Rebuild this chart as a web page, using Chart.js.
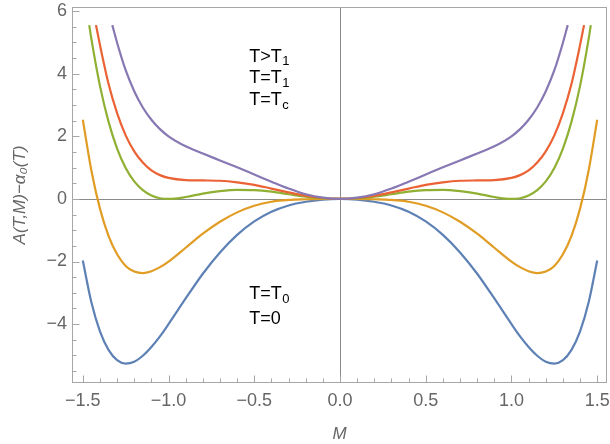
<!DOCTYPE html>
<html>
<head>
<meta charset="utf-8">
<script src="https://cdn.jsdelivr.net/npm/chart.js@4.4.1/dist/chart.umd.min.js"></script>
<style>
  html, body { margin: 0; padding: 0; background: #fff; }
  #wrap { width: 610px; height: 444px; }
</style>
</head>
<body>
<div id="wrap"><canvas id="chart"></canvas></div>
<script>
// M values on a shared grid (finer near the walls)
const mFull = [-1.5, -1.45, -1.4, -1.35, -1.3, -1.25, -1.2, -1.15, -1.1, -1.05, -1.0,
  -0.9, -0.8, -0.7, -0.6, -0.5, -0.4, -0.3, -0.2, -0.1, 0, 0.1, 0.2, 0.3, 0.4, 0.5, 0.6, 0.7, 0.8, 0.9,
  1.0, 1.05, 1.1, 1.15, 1.2, 1.25, 1.3, 1.35, 1.4, 1.45, 1.5];
const mGreen = [-1.4625, -1.45, -1.4, -1.35, -1.3, -1.25, -1.2, -1.15, -1.1, -1.05, -1.0,
  -0.9, -0.8, -0.7, -0.6, -0.5, -0.4, -0.3, -0.2, -0.1, 0, 0.1, 0.2, 0.3, 0.4, 0.5, 0.6, 0.7, 0.8, 0.9,
  1.0, 1.05, 1.1, 1.15, 1.2, 1.25, 1.3, 1.35, 1.4, 1.45, 1.4625];
const mRed = [-1.423, -1.4, -1.35, -1.3, -1.25, -1.2, -1.15, -1.1, -1.05, -1.0,
  -0.9, -0.8, -0.7, -0.6, -0.5, -0.4, -0.3, -0.2, -0.1, 0, 0.1, 0.2, 0.3, 0.4, 0.5, 0.6, 0.7, 0.8, 0.9,
  1.0, 1.05, 1.1, 1.15, 1.2, 1.25, 1.3, 1.35, 1.4, 1.423];
const mPurple = [-1.328, -1.3, -1.25, -1.2, -1.15, -1.1, -1.05, -1.0,
  -0.9, -0.8, -0.7, -0.6, -0.5, -0.4, -0.3, -0.2, -0.1, 0, 0.1, 0.2, 0.3, 0.4, 0.5, 0.6, 0.7, 0.8, 0.9,
  1.0, 1.05, 1.1, 1.15, 1.2, 1.25, 1.3, 1.328];

// A(T,M) - a0(T)
const aZero = [-1.97, -3.30, -4.23, -4.82, -5.15, -5.26, -5.20, -5.01, -4.73, -4.39, -4.00,
  -3.18, -2.39, -1.71, -1.15, -0.72, -0.41, -0.21, -0.09, -0.02, 0, -0.02, -0.09, -0.21, -0.41, -0.72, -1.15, -1.71, -2.39, -3.18,
  -4.00, -4.39, -4.73, -5.01, -5.20, -5.26, -5.15, -4.82, -4.23, -3.30, -1.97];
const aT0 = [2.53, 0.91, -0.31, -1.18, -1.77, -2.14, -2.32, -2.37, -2.31, -2.18, -2.00,
  -1.56, -1.11, -0.73, -0.43, -0.22, -0.09, -0.03, -0.01, 0.00, 0, 0.00, -0.01, -0.03, -0.09, -0.22, -0.43, -0.73, -1.11, -1.56,
  -2.00, -2.18, -2.31, -2.37, -2.32, -2.14, -1.77, -1.18, -0.31, 0.91, 2.53];
const aTc = [5.55, 5.11, 3.61, 2.47, 1.61, 0.99, 0.56, 0.28, 0.11, 0.02, 0.00,
  0.06, 0.17, 0.25, 0.29, 0.28, 0.23, 0.15, 0.07, 0.02, 0, 0.02, 0.07, 0.15, 0.23, 0.28, 0.29, 0.25, 0.17, 0.06,
  0.00, 0.02, 0.11, 0.28, 0.56, 0.99, 1.61, 2.47, 3.61, 5.11, 5.55];
const aT1 = [5.55, 4.92, 3.68, 2.74, 2.03, 1.52, 1.16, 0.91, 0.76, 0.67,
  0.60, 0.59, 0.58, 0.53, 0.45, 0.33, 0.21, 0.10, 0.03, 0, 0.03, 0.10, 0.21, 0.33, 0.45, 0.53, 0.58, 0.59, 0.60,
  0.67, 0.76, 0.91, 1.16, 1.52, 2.03, 2.74, 3.68, 4.92, 5.55];
const aAbove = [5.55, 4.99, 4.11, 3.44, 2.92, 2.53, 2.23, 2.00,
  1.68, 1.45, 1.23, 1.01, 0.78, 0.55, 0.33, 0.15, 0.04, 0, 0.04, 0.15, 0.33, 0.55, 0.78, 1.01, 1.23, 1.45, 1.68,
  2.00, 2.23, 2.53, 2.92, 3.44, 4.11, 4.99, 5.55];

const xTicks = [-1.5, -1.0, -0.5, 0.0, 0.5, 1.0, 1.5];
const yTicks = [-4, -2, 0, 2, 4, 6];

// curve labels: [text, subscript, M, A]
const curveLabels = [
  ['T>T', '1', -0.53, 4.54],
  ['T=T', '1', -0.53, 3.85],
  ['T=T', 'c', -0.53, 3.15],
  ['T=T', '0', -0.53, -3.04],
  ['T=0', '', -0.53, -3.84]
];

const pts = (ms, as) => ms.map((m, i) => ({ x: m, y: as[i] }));
const line = (label, data, color) => ({
  label: label, data: data, borderColor: color, backgroundColor: color,
  borderWidth: 2.2, pointRadius: 0, fill: false, cubicInterpolationMode: 'monotone'
});

const frameColor = '#a6a6a6';
const axisColor = '#8a8a8a';
const labelFont = '"Liberation Sans", Arial, sans-serif';

const framePlugin = {
  id: 'frame',
  beforeDatasetsDraw(chart) {
    const { ctx, chartArea: a, scales: { x, y } } = chart;
    ctx.save();
    ctx.strokeStyle = axisColor;
    ctx.lineWidth = 1;
    const x0 = Math.round(x.getPixelForValue(0)) + 0.5;
    const y0 = Math.round(y.getPixelForValue(0)) + 0.5;
    ctx.beginPath();
    ctx.moveTo(x0, a.top); ctx.lineTo(x0, a.bottom);
    ctx.moveTo(a.left, y0); ctx.lineTo(a.right, y0);
    ctx.stroke();
    ctx.restore();
  },
  afterDraw(chart) {
    const { ctx, chartArea: a, scales: { x, y } } = chart;
    ctx.save();
    ctx.strokeStyle = frameColor;
    ctx.lineWidth = 1;
    const L = Math.round(a.left) + 0.5, R = Math.round(a.right) - 0.5;
    const T = Math.round(a.top) + 0.5, B = Math.round(a.bottom) - 0.5;
    ctx.strokeRect(L, T, R - L, B - T);
    ctx.beginPath();
    // x ticks (major every 0.5, minor every 0.1)
    for (let k = -15; k <= 15; k++) {
      const v = k / 10;
      const px = Math.round(x.getPixelForValue(v)) + 0.5;
      const len = (k % 5 === 0) ? 7 : 4;
      ctx.moveTo(px, B); ctx.lineTo(px, B - len);
    }
    // y ticks (major every 2, minor every 0.5)
    for (let k = -11; k <= 12; k++) {
      const v = k / 2;
      const py = Math.round(y.getPixelForValue(v)) + 0.5;
      const len = (k % 4 === 0) ? 7 : 4;
      ctx.moveTo(L, py); ctx.lineTo(L + len, py);
    }
    ctx.stroke();

    // curve labels
    ctx.fillStyle = '#000';
    ctx.textBaseline = 'middle';
    ctx.textAlign = 'left';
    curveLabels.forEach(([txt, sub, m, av]) => {
      const px = x.getPixelForValue(m);
      const py = y.getPixelForValue(av);
      ctx.font = '18px ' + labelFont;
      ctx.fillText(txt, px, py);
      if (sub) {
        const w = ctx.measureText(txt).width;
        ctx.font = '13px ' + labelFont;
        ctx.fillText(sub, px + w + 0.5, py + 5);
      }
    });
    ctx.restore();
  }
};

new Chart(document.getElementById('chart'), {
  type: 'line',
  data: {
    datasets: [
      line('T>T1', pts(mPurple, aAbove), '#8778b3'),
      line('T=T1', pts(mRed, aT1), '#eb6235'),
      line('T=Tc', pts(mGreen, aTc), '#8fb032'),
      line('T=T0', pts(mFull, aT0), '#e19c24'),
      line('T=0', pts(mFull, aZero), '#5e81b5')
    ]
  },
  options: {
    responsive: true,
    maintainAspectRatio: false,
    animation: false,
    layout: { padding: { top: 7, right: 3, left: 0, bottom: 0 } },
    plugins: { legend: { display: false }, tooltip: { enabled: false } },
    scales: {
      x: {
        type: 'linear',
        min: -1.563, max: 1.557,
        afterBuildTicks: s => { s.ticks = xTicks.map(v => ({ value: v })); },
        afterFit: s => { s.height = 61; s.paddingLeft = 0; s.paddingRight = 0; },
        grid: { display: false, drawTicks: false },
        border: { display: false },
        ticks: {
          padding: 7,
          color: '#666',
          font: { family: labelFont, size: 18 },
          maxRotation: 0,
          callback: v => v.toFixed(1).replace('-', '\u2212')
        },
        title: {
          display: true, text: 'M', color: '#666',
          font: { family: labelFont, size: 17, style: 'italic' },
          padding: { top: 2, bottom: 0 }
        }
      },
      y: {
        type: 'linear',
        min: -5.88, max: 6.13,
        afterBuildTicks: s => { s.ticks = yTicks.map(v => ({ value: v })); },
        afterFit: s => { s.width = 72; s.paddingTop = 0; s.paddingBottom = 0; },
        grid: { display: false, drawTicks: false },
        border: { display: false },
        ticks: {
          padding: 5,
          color: '#666',
          font: { family: labelFont, size: 18 },
          callback: v => String(v).replace('-', '\u2212')
        },
        title: {
          display: true, text: 'A(T,M)\u2212\u03b1\u2080(T)', color: '#666',
          font: { family: labelFont, size: 17, style: 'italic' },
          padding: { top: 10, bottom: 0 }
        }
      }
    }
  },
  plugins: [framePlugin]
});
</script>
</body>
</html>
